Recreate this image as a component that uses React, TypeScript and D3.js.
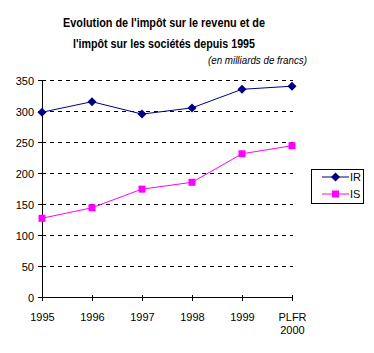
import * as d3 from "d3";

const categories = ["1995", "1996", "1997", "1998", "1999", "PLFR 2000"];
const irValues = [298, 315, 295, 305, 335, 340];
const isValues = [127, 144, 174, 185, 231, 244];
const yTicks = [0, 50, 100, 150, 200, 250, 300, 350];

const font = "Liberation Sans, Arial, sans-serif";

export default function App() {
  const width = 374;
  const height = 353;

  const x = d3.scalePoint<string>().domain(categories).range([42, 292]);
  const y = d3.scaleLinear().domain([0, 350]).range([297, 80]);

  const line = d3
    .line<number>()
    .x((_, i) => x(categories[i]) as number)
    .y((d) => y(d));

  const diamond = (cx: number, cy: number, r = 4.5) =>
    `M${cx},${cy - r}L${cx + r},${cy}L${cx},${cy + r}L${cx - r},${cy}Z`;

  return (
    <div style={{ position: "absolute", left: 0, top: 0 }}>
      <svg width={width} height={height} style={{ display: "block", background: "#fff" }}>
        {/* title */}
        <g fontFamily={font} fontWeight="bold" fontSize={12} textAnchor="middle">
          <text x={164} y={27} textLength={202} lengthAdjust="spacingAndGlyphs">
            Evolution de l'impôt sur le revenu et de
          </text>
          <text x={164} y={48} textLength={182} lengthAdjust="spacingAndGlyphs">
            l'impôt sur les sociétés depuis 1995
          </text>
        </g>
        <text
          x={307}
          y={64}
          fontFamily={font}
          fontStyle="italic"
          fontSize={10.5}
          textAnchor="end"
          textLength={99}
          lengthAdjust="spacingAndGlyphs"
        >
          (en milliards de francs)
        </text>

        {/* grid */}
        {yTicks
          .filter((t) => t > 0)
          .map((t) => (
            <line
              key={t}
              x1={42}
              x2={293}
              y1={y(t) + 0.5}
              y2={y(t) + 0.5}
              stroke="#000"
              strokeDasharray="4,4"
            />
          ))}

        {/* y axis */}
        <line x1={42.5} x2={42.5} y1={80} y2={297} stroke="#000" />
        {yTicks.map((t) => (
          <g key={t}>
            <line x1={38} x2={42} y1={y(t) + 0.5} y2={y(t) + 0.5} stroke="#000" />
            <text
              x={34}
              y={y(t) + 4.5}
              fontFamily={font}
              fontSize={11}
              textAnchor="end"
            >
              {t}
            </text>
          </g>
        ))}

        {/* x axis */}
        <line x1={42} x2={293} y1={297.5} y2={297.5} stroke="#000" />
        {categories.map((c) => {
          const cx = (x(c) as number) + 0.5;
          const parts = c.split(" ");
          return (
            <g key={c}>
              <line x1={cx} x2={cx} y1={295} y2={301} stroke="#000" />
              <text fontFamily={font} fontSize={11} textAnchor="middle">
                {parts.map((p, i) => (
                  <tspan key={p} x={cx} y={321 + i * 12.5}>
                    {p}
                  </tspan>
                ))}
              </text>
            </g>
          );
        })}

        {/* IR series */}
        <path d={line(irValues) ?? ""} fill="none" stroke="#000080" strokeWidth={1} />
        {irValues.map((v, i) => (
          <path key={i} d={diamond(x(categories[i]) as number, y(v))} fill="#000080" />
        ))}

        {/* IS series */}
        <path d={line(isValues) ?? ""} fill="none" stroke="#FF00FF" strokeWidth={1} />
        {isValues.map((v, i) => (
          <rect
            key={i}
            x={(x(categories[i]) as number) - 3.5}
            y={y(v) - 3.5}
            width={7}
            height={7}
            fill="#FF00FF"
          />
        ))}

        {/* legend */}
        <rect x={311.5} y={169.5} width={52} height={34} fill="#fff" stroke="#000" />
        <line x1={322} x2={349} y1={177} y2={177} stroke="#000080" />
        <path d={diamond(335.5, 177)} fill="#000080" />
        <text x={350} y={181} fontFamily={font} fontSize={11}>
          IR
        </text>
        <line x1={322} x2={349} y1={194} y2={194} stroke="#FF00FF" />
        <rect x={332} y={190.5} width={7} height={7} fill="#FF00FF" />
        <text x={350} y={198} fontFamily={font} fontSize={11}>
          IS
        </text>
      </svg>
    </div>
  );
}
